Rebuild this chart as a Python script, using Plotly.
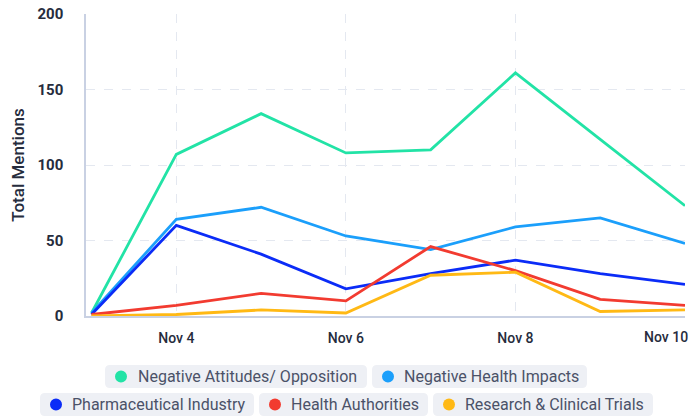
import plotly.graph_objects as go

dates = ["2024-11-03", "2024-11-04", "2024-11-05", "2024-11-06",
         "2024-11-07", "2024-11-08", "2024-11-09", "2024-11-10"]

series_names = ["Negative Attitudes/ Opposition", "Negative Health Impacts",
                "Pharmaceutical Industry", "Health Authorities",
                "Research & Clinical Trials"]

neg_attitudes = [2, 107, 134, 108, 110, 161, 117, 73]
neg_health = [2, 64, 72, 53, 44, 59, 65, 48]
pharma = [1, 60, 41, 18, 28, 37, 28, 21]
health_auth = [1, 7, 15, 10, 46, 30, 11, 7]
research = [0, 1, 4, 2, 27, 29, 3, 4]

colors = ["#22e3a6", "#1b9ffb", "#0b2cf7", "#f23b30", "#ffb915"]
values = [neg_attitudes, neg_health, pharma, health_auth, research]

y_ticks = [0, 50, 100, 150, 200]
x_ticks = ["2024-11-04", "2024-11-06", "2024-11-08", "2024-11-10"]
x_tick_labels = ["Nov 4", "Nov 6", "Nov 8", "Nov 10"]

W, H = 689, 417
ML, MR, MT, MB = 86, 4, 14, 101
PW = W - ML - MR
PH = H - MT - MB

fig = go.Figure()
for name, vals, col in zip(series_names, values, colors):
    fig.add_trace(go.Scatter(x=dates, y=vals, name=name, mode="lines",
                             line=dict(color=col, width=2.8), showlegend=False))


def px_x(px):
    return (px - ML) / PW


def px_y(py):
    return (H - MB - py) / PH


def rounded_rect(x0, y0, x1, y1, r):
    rx = r / PW
    ry = r / PH
    X0, X1 = px_x(x0), px_x(x1)
    Yt, Yb = px_y(y0), px_y(y1)
    return (f"M {X0+rx},{Yt} L {X1-rx},{Yt} Q {X1},{Yt} {X1},{Yt-ry} "
            f"L {X1},{Yb+ry} Q {X1},{Yb} {X1-rx},{Yb} L {X0+rx},{Yb} "
            f"Q {X0},{Yb} {X0},{Yb+ry} L {X0},{Yt-ry} Q {X0},{Yt} {X0+rx},{Yt} Z")


# legend pills (pixel boxes)
pills = [
    (105, 365, 367, 388),
    (372, 365, 587, 388),
    (40, 393, 254, 416),
    (259, 393, 428, 416),
    (433, 393, 653, 416),
]
shapes = []
annotations = []
for (x0, y0, x1, y1), name, col in zip(pills, series_names, colors):
    shapes.append(dict(type="path", xref="paper", yref="paper",
                       path=rounded_rect(x0, y0, x1, y1, 5),
                       fillcolor="#eef0f5", line=dict(width=0), layer="below"))
    cx, cy, r = x0 + 16, (y0 + y1) / 2, 6
    shapes.append(dict(type="circle", xref="paper", yref="paper",
                       x0=px_x(cx - r), x1=px_x(cx + r),
                       y0=px_y(cy + r), y1=px_y(cy - r),
                       fillcolor=col, line=dict(width=0)))
    annotations.append(dict(xref="paper", yref="paper",
                            x=px_x((x0 + 30 + x1 - 7) / 2), y=px_y(cy),
                            xanchor="center", yanchor="middle",
                            text=name, showarrow=False,
                            font=dict(family="Roboto", size=16, color="#4b5268")))

# last x tick label is shifted left so it stays (mostly) inside the chart
tick_font = dict(family="Roboto", size=14, color="#262c3d", weight=500)
annotations.append(dict(xref="paper", yref="paper", x=px_x(642), y=px_y(337),
                        xanchor="left", yanchor="middle", showarrow=False,
                        text=x_tick_labels[-1], font=tick_font))
shown_tick_text = x_tick_labels[:-1] + [""]

fig.update_layout(
    width=W, height=H,
    margin=dict(l=ML, r=MR, t=MT, b=MB, autoexpand=False),
    paper_bgcolor="white", plot_bgcolor="white",
    shapes=shapes, annotations=annotations,
    showlegend=False,
    font=dict(family="Roboto", color="#262c3d"),
)
fig.update_xaxes(
    type="date", range=["2024-11-02 22:26", "2024-11-10"],
    tickvals=x_ticks, ticktext=shown_tick_text,
    tickfont=tick_font,
    showgrid=True, gridcolor="#e4e8f0", griddash="dash", gridwidth=1,
    showline=True, linecolor="#c9d1e3", linewidth=1.5,
    ticks="", ticklabelstandoff=8, zeroline=False,
    ticklabeloverflow="allow", automargin=False,
)
fig.update_yaxes(
    range=[0, 200], tickvals=y_ticks,
    tickfont=dict(family="Roboto", size=15, color="#262c3d", weight=700),
    title=dict(text="Total Mentions", standoff=8,
               font=dict(family="Roboto", size=17, color="#262c3d", weight=500)),
    showgrid=True, gridcolor="#e4e8f0", griddash="dash", gridwidth=1,
    showline=True, linecolor="#c9d1e3", linewidth=1.5,
    ticks="", ticklabelstandoff=18, zeroline=False,
)

fig.write_html("out.html",
               config={"displayModeBar": False},
               post_script="document.body.style.margin='0px';document.body.style.overflow='hidden';")
